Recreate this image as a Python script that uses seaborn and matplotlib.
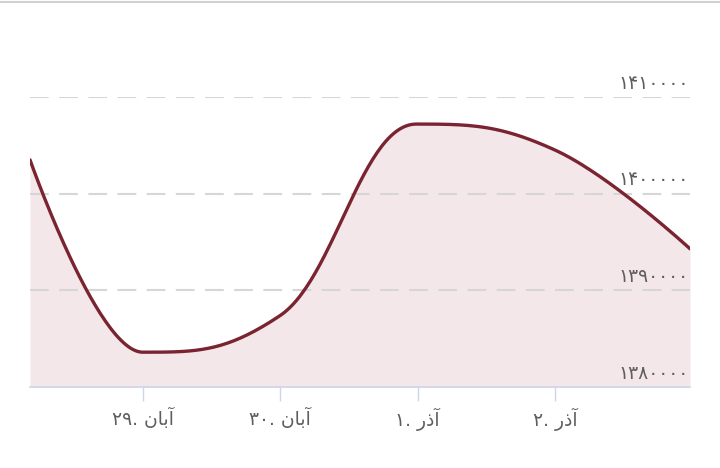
import numpy as np
import pandas as pd
import matplotlib
matplotlib.use("Agg")
import matplotlib.pyplot as plt
import matplotlib.transforms as mtransforms
import seaborn as sns

# data: days counted from 29 Aban, price values
day_offsets = [-0.82, 0.0, 1.0, 1.99, 3.0, 3.98]
prices = [1403500, 1383600, 1387400, 1407200, 1404500, 1394300]

tick_days = [0, 1, 2, 3]
tick_labels = ["۲۹. آبان", "۳۰. آبان", "۱. آذر", "۲. آذر"]
y_ticks = [1380000, 1390000, 1400000, 1410000]

LINE = "#7a2431"
FILL = "#f4e7e9"
TEXT = "#5e5e5e"

FA_DIGITS = str.maketrans("0123456789", "۰۱۲۳۴۵۶۷۸۹")

# presentation forms: iso, fin, init, med (None when the letter does not join forward)
FORMS = {
    "آ": ("\uFE81", "\uFE82", None, None),
    "ا": ("\uFE8D", "\uFE8E", None, None),
    "ب": ("\uFE8F", "\uFE90", "\uFE91", "\uFE92"),
    "ن": ("\uFEE5", "\uFEE6", "\uFEE7", "\uFEE8"),
    "ذ": ("\uFEAB", "\uFEAC", None, None),
    "ر": ("\uFEAD", "\uFEAE", None, None),
}


def shape_word(word):
    out = []
    for i, ch in enumerate(word):
        if ch not in FORMS:
            out.append(ch)
            continue
        prev = word[i - 1] if i > 0 else None
        nxt = word[i + 1] if i < len(word) - 1 else None
        join_prev = prev in FORMS and FORMS[prev][2] is not None
        join_next = FORMS[ch][2] is not None and nxt in FORMS
        f = FORMS[ch]
        if join_prev and join_next:
            out.append(f[3])
        elif join_prev:
            out.append(f[1])
        elif join_next:
            out.append(f[2])
        else:
            out.append(f[0])
    return "".join(reversed(out))


def visual(label):
    return " ".join(shape_word(w) if any(c in FORMS for c in w) else w
                    for w in label.split(" "))


def spline(xs, ys, n=60):
    # highcharts-like spline through the points
    xs = np.asarray(xs, float)
    ys = np.asarray(ys, float)
    k = len(xs)
    lcx, lcy, rcx, rcy = xs.copy(), ys.copy(), xs.copy(), ys.copy()
    for i in range(1, k - 1):
        px, py = xs[i], ys[i]
        lx, ly, nx, ny = xs[i - 1], ys[i - 1], xs[i + 1], ys[i + 1]
        a = (1.5 * px + lx) / 2.5
        b = (1.5 * py + ly) / 2.5
        c = (1.5 * px + nx) / 2.5
        d = (1.5 * py + ny) / 2.5
        corr = (d - b) * (c - px) / (c - a) + py - d
        b += corr
        d += corr
        if b > ly and b > py:
            b = max(ly, py); d = 2 * py - b
        elif b < ly and b < py:
            b = min(ly, py); d = 2 * py - b
        if d > ny and d > py:
            d = max(ny, py); b = 2 * py - d
        elif d < ny and d < py:
            d = min(ny, py); b = 2 * py - d
        lcx[i], lcy[i], rcx[i], rcy[i] = a, b, c, d
    t = np.linspace(0, 1, n)[:, None]
    outx, outy = [], []
    for i in range(1, k):
        P = np.array([[xs[i - 1], ys[i - 1]], [rcx[i - 1], rcy[i - 1]],
                      [lcx[i], lcy[i]], [xs[i], ys[i]]])
        seg = ((1 - t) ** 3) * P[0] + 3 * ((1 - t) ** 2) * t * P[1] \
            + 3 * (1 - t) * t ** 2 * P[2] + t ** 3 * P[3]
        outx.extend(seg[:, 0]); outy.extend(seg[:, 1])
    return np.array(outx), np.array(outy)


sns.set_theme(style="white")
plt.rcParams["font.family"] = ["DejaVu Sans"]

fig = plt.figure(figsize=(7.2, 4.68), dpi=100)
ax = fig.add_axes([30 / 720, 81 / 468, 660 / 720, 290 / 468])

cx, cy = spline(day_offsets, prices)
curve = pd.DataFrame({"day": cx, "price": cy})

ax.fill_between(curve["day"], curve["price"], y_ticks[0], color=FILL, lw=0, zorder=1)
for v in y_ticks[1:]:
    ax.axhline(v, color="#d6d6d6", lw=1.5, dashes=(9, 5), zorder=2)
sns.lineplot(data=curve, x="day", y="price", ax=ax, color=LINE, lw=2.4,
             sort=False, estimator=None, zorder=3)

ax.set_xlim(day_offsets[0], day_offsets[-1])
ax.set_ylim(y_ticks[0], y_ticks[-1])
ax.set_xlabel("")
ax.set_ylabel("")

for s in ["top", "right", "left"]:
    ax.spines[s].set_visible(False)
ax.spines["bottom"].set_color("#ccd6eb")
ax.spines["bottom"].set_linewidth(1.2)
ax.spines["bottom"].set_zorder(4)

ax.set_xticks(tick_days)
ax.set_xticklabels([visual(l) for l in tick_labels], fontsize=13.5, color=TEXT)
ax.tick_params(axis="x", length=10, width=1, color="#ccd6eb", pad=5, bottom=True)
ax.set_yticks([])

trans = mtransforms.blended_transform_factory(ax.transAxes, ax.transData)
for v in y_ticks:
    ax.annotate(str(v).translate(FA_DIGITS), (1, v), xycoords=trans,
                xytext=(-1, 3), textcoords="offset points",
                ha="right", va="bottom", fontsize=13.5, color=TEXT)

fig.add_artist(plt.Line2D([0, 1], [1 - 1.5 / 468, 1 - 1.5 / 468],
                          transform=fig.transFigure, color="#d0d0d0", lw=1.5))

fig.savefig("out.png", dpi=100)
